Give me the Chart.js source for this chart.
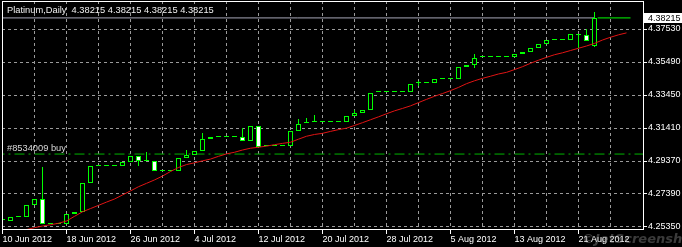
<!DOCTYPE html>
<html>
<head>
<meta charset="utf-8">
<script src="https://cdn.jsdelivr.net/npm/chart.js@4.4.1/dist/chart.umd.min.js"></script>
<style>
  html, body { margin: 0; padding: 0; background: #000; }
  #wrap { width: 682px; height: 247px; }
</style>
</head>
<body>
<div id="wrap"><canvas id="myChart"></canvas></div>
<script>
// Daily Platinum bars, one per calendar day from 10 Jun 2012
const opens = [4.25704, 4.25692, 4.25939, 4.25939, 4.26638, 4.27052, 4.25476, 4.25476, 4.25476, 4.26094,
  4.26217, 4.27992, 4.29061, 4.29061, 4.29061, 4.29061, 4.29308, 4.29679, 4.29370, 4.29370,
  4.28733, 4.28733, 4.28733, 4.29525, 4.29772, 4.30019, 4.30711, 4.30854, 4.30854, 4.30854,
  4.30854, 4.30576, 4.31515, 4.30297, 4.30328, 4.30328, 4.30328, 4.31225, 4.31701, 4.31762,
  4.31800, 4.31800, 4.31800, 4.31800, 4.32152, 4.32356, 4.32523, 4.33617, 4.33617, 4.33617,
  4.33617, 4.33617, 4.34173, 4.34173, 4.34173, 4.34421, 4.34421, 4.34421, 4.35162, 4.35292,
  4.35781, 4.35781, 4.35781, 4.35781, 4.35781, 4.35966, 4.36090, 4.36337, 4.36584, 4.36869,
  4.36869, 4.36850, 4.37190, 4.37190, 4.36498];
const highs = [4.25704, 4.25939, 4.25939, 4.26638, 4.27052, 4.28981, 4.25476, 4.25476, 4.26094, 4.26217,
  4.27992, 4.29061, 4.29061, 4.29061, 4.29061, 4.29308, 4.29679, 4.29679, 4.29957, 4.29370,
  4.28733, 4.28733, 4.29525, 4.30069, 4.30019, 4.31101, 4.30854, 4.30854, 4.30854, 4.30854,
  4.31391, 4.31515, 4.31515, 4.30297, 4.30328, 4.30328, 4.31225, 4.31997, 4.32059, 4.32195,
  4.31800, 4.31800, 4.31800, 4.32152, 4.32523, 4.32523, 4.33592, 4.33617, 4.33617, 4.33617,
  4.33617, 4.34130, 4.34334, 4.34173, 4.34421, 4.34421, 4.34421, 4.35162, 4.35292, 4.35966,
  4.35781, 4.35781, 4.35781, 4.35781, 4.35966, 4.36090, 4.36337, 4.36584, 4.36850, 4.36869,
  4.36869, 4.37202, 4.37202, 4.37530, 4.38562];
const lows = [4.25704, 4.25692, 4.25939, 4.25939, 4.26638, 4.25476, 4.25476, 4.25476, 4.25476, 4.26094,
  4.26217, 4.27992, 4.29061, 4.29061, 4.29061, 4.29061, 4.29308, 4.29092, 4.29370, 4.28733,
  4.28733, 4.28733, 4.28733, 4.29525, 4.29772, 4.30019, 4.30711, 4.30854, 4.30854, 4.30854,
  4.30576, 4.30576, 4.30266, 4.30297, 4.30328, 4.30328, 4.30328, 4.31225, 4.31701, 4.31762,
  4.31800, 4.31800, 4.31800, 4.31800, 4.32152, 4.32356, 4.32523, 4.33617, 4.33617, 4.33617,
  4.33617, 4.33617, 4.34006, 4.34173, 4.34173, 4.34421, 4.34421, 4.34421, 4.35162, 4.35101,
  4.35781, 4.35781, 4.35781, 4.35781, 4.35781, 4.35966, 4.36090, 4.36337, 4.36584, 4.36869,
  4.36869, 4.36850, 4.36374, 4.36788, 4.36436];
const closes = [4.25704, 4.25939, 4.25939, 4.26638, 4.27052, 4.25476, 4.25476, 4.25476, 4.26094, 4.26217,
  4.27992, 4.29061, 4.29061, 4.29061, 4.29061, 4.29308, 4.29679, 4.29370, 4.29370, 4.28733,
  4.28733, 4.28733, 4.29525, 4.29772, 4.30019, 4.30711, 4.30854, 4.30854, 4.30854, 4.30854,
  4.30576, 4.31515, 4.30266, 4.30297, 4.30328, 4.30328, 4.31225, 4.31639, 4.31701, 4.31762,
  4.31800, 4.31800, 4.31800, 4.32152, 4.32356, 4.32523, 4.33592, 4.33617, 4.33617, 4.33617,
  4.33617, 4.34130, 4.34173, 4.34173, 4.34421, 4.34421, 4.34421, 4.35162, 4.35292, 4.35719,
  4.35781, 4.35781, 4.35781, 4.35781, 4.35966, 4.36090, 4.36337, 4.36584, 4.36850, 4.36869,
  4.36869, 4.37202, 4.37190, 4.36788, 4.38215];

// red moving average, first value on bar 3, runs a few bars past the last candle
const maStart = 3;
const maValues = [4.2513, 4.2525, 4.2535, 4.2543, 4.2552, 4.2566, 4.2595, 4.2623, 4.2643, 4.2663,
  4.2683, 4.2702, 4.2727, 4.2752, 4.2778, 4.2799, 4.2820, 4.2844, 4.2872, 4.2897,
  4.2915, 4.2926, 4.2938, 4.2949, 4.2966, 4.2981, 4.2991, 4.3005, 4.3016, 4.3022,
  4.3029, 4.3038, 4.3046, 4.3053, 4.3072, 4.3090, 4.3101, 4.3108, 4.3120, 4.3131,
  4.3140, 4.3157, 4.3174, 4.3192, 4.3210, 4.3229, 4.3247, 4.3262, 4.3278, 4.3298,
  4.3318, 4.3337, 4.3354, 4.3372, 4.3392, 4.3415, 4.3433, 4.3448, 4.3461, 4.3475,
  4.3485, 4.3502, 4.3520, 4.3541, 4.3560, 4.3578, 4.3594, 4.3606, 4.3620, 4.3634,
  4.3648, 4.3664, 4.3685, 4.3702, 4.3717, 4.3729];

const yTicks = [4.25350, 4.27390, 4.29370, 4.31410, 4.33450, 4.35490, 4.37530];
// one date label every 8 bars
const dateLabels = ['10 Jun 2012', '18 Jun 2012', '26 Jun 2012', '4 Jul 2012', '12 Jul 2012',
  '20 Jul 2012', '28 Jul 2012', '5 Aug 2012', '13 Aug 2012', '21 Aug 2012'];

const bidPrice = 4.38215;
const orderPrice = 4.29800;
const orderLabel = '#8534009 buy';
const symbolTitle = 'Platinum,Daily';

const GREEN = '#00ff00';
const GRID = '#9a9a9a';

const bodies = opens.map((o, i) => ({ x: i, y: [o, closes[i]] }));
const wicks = lows.map((l, i) => ({ x: i, y: [l, highs[i]] }));
const maPoints = maValues.map((v, i) => ({ x: maStart + i, y: v }));
const lastBar = opens.length - 1;

// vertical grid every 4 bars, labels on every other one
const gridBars = [];
for (let v = 0; v < dateLabels.length * 8; v += 4) gridBars.push(v);

// snap candle rectangles to whole pixels so thin dashes stay sharp
const pixelSnap = {
  id: 'pixelSnap',
  beforeDatasetsDraw(chart) {
    [1, 2].forEach((di) => {
      chart.getDatasetMeta(di).data.forEach((el) => {
        el.y = Math.round(el.y);
        el.base = Math.round(el.base);
        if (di === 1 && el.y === el.base) el.base = el.y + 1;
      });
    });
  }
};

// frame, header text, order label and the bid price box
const mtOverlay = {
  id: 'mtOverlay',
  afterDraw(chart) {
    const { ctx, chartArea: a, scales: { y } } = chart;
    ctx.save();
    ctx.strokeStyle = '#fff';
    ctx.lineWidth = 1;
    ctx.strokeRect(a.left + 0.5, a.top + 0.5, a.right - a.left, a.bottom - a.top - 1);

    ctx.font = '9.3px "Liberation Sans", Arial, sans-serif';
    ctx.textBaseline = 'alphabetic';
    ctx.textAlign = 'left';
    ctx.fillStyle = '#f0f0f0';
    const p = bidPrice.toFixed(5);
    ctx.fillText(symbolTitle + '  ' + [p, p, p, p].join(' '), 7, 13);

    ctx.fillStyle = '#d8d8d8';
    ctx.fillText(orderLabel, 7, 151);

    const by = Math.round(y.getPixelForValue(bidPrice));
    ctx.fillStyle = '#fff';
    ctx.fillRect(a.right + 1, by - 5, 40, 10);
    ctx.fillStyle = '#000';
    ctx.font = '9px "Liberation Sans", Arial, sans-serif';
    ctx.textBaseline = 'middle';
    ctx.fillText(p, a.right + 5, by + 0.5);

    // screenshot tool watermark
    ctx.font = 'italic bold 13px "DejaVu Sans", sans-serif';
    ctx.textBaseline = 'alphabetic';
    ctx.fillStyle = 'rgba(170,170,170,0.35)';
    ctx.fillText('\u00a9JetScreenshot', 582, 243);
    ctx.restore();
  }
};

Chart.defaults.font.family = '"Liberation Sans", Arial, sans-serif';
Chart.defaults.font.size = 9;

const ctx = document.getElementById('myChart').getContext('2d');
const chart = new Chart(ctx, {
  type: 'bar',
  data: {
    datasets: [
      {
        type: 'line', label: 'MA', data: maPoints,
        borderColor: '#e01414', borderWidth: 1, pointRadius: 0, tension: 0, order: 0,
      },
      {
        label: 'bodies', data: bodies,
        backgroundColor: (c) => closes[c.dataIndex] >= opens[c.dataIndex] ? '#000' : '#fff',
        borderColor: GREEN, borderWidth: 1, borderSkipped: false,
        barThickness: 5, minBarLength: 1, grouped: false, inflateAmount: 0, order: 1,
      },
      {
        label: 'wicks', data: wicks,
        backgroundColor: GREEN, borderWidth: 0,
        barThickness: 1, grouped: false, inflateAmount: 0, order: 2,
      },
      {
        type: 'line', label: 'bid', data: [{ x: -1, y: bidPrice }, { x: lastBar, y: bidPrice }],
        borderColor: '#a8a8b8', borderWidth: 1, pointRadius: 0, order: 3,
      },
      {
        type: 'line', label: 'bid right', data: [{ x: lastBar + 0.4, y: bidPrice }, { x: lastBar + 4.5, y: bidPrice }],
        borderColor: GREEN, borderWidth: 1, pointRadius: 0, order: 4,
      },
      {
        type: 'line', label: 'order', data: [{ x: -1, y: orderPrice }, { x: 81, y: orderPrice }],
        borderColor: '#00b400', borderWidth: 1, borderDash: [10, 4, 2, 4], pointRadius: 0, order: 5,
      },
    ],
  },
  options: {
    responsive: true,
    maintainAspectRatio: false,
    animation: false,
    devicePixelRatio: 1,
    layout: { padding: { left: 2, top: 1, right: 0, bottom: 0 } },
    plugins: { legend: { display: false }, tooltip: { enabled: false } },
    scales: {
      x: {
        type: 'linear', min: -0.0625, max: 80.0625, offset: false,
        afterBuildTicks: (s) => { s.ticks = gridBars.map((v) => ({ value: v })); },
        afterFit: (s) => { s.height = 17; s.paddingLeft = 0; s.paddingRight = 0; },
        ticks: {
          autoSkip: false, maxRotation: 0, minRotation: 0, align: 'start', padding: 0, color: '#fff',
          callback: (v) => (v % 8 === 0 ? dateLabels[v / 8] : ''),
        },
        grid: {
          color: GRID, offset: false, tickLength: 4,
          tickColor: (c) => (c.tick && c.tick.value % 8 === 0 ? '#fff' : 'rgba(0,0,0,0)'),
        },
        border: { display: false, dash: [3, 3] },
      },
      y: {
        type: 'linear', position: 'right', min: 4.25105, max: 4.39261,
        afterBuildTicks: (s) => { s.ticks = yTicks.map((v) => ({ value: v })); },
        afterFit: (s) => { s.width = 39; s.paddingTop = 0; s.paddingBottom = 0; },
        ticks: { color: '#fff', padding: 1, callback: (v) => v.toFixed(5) },
        grid: { color: GRID, tickLength: 4, tickColor: '#fff' },
        border: { display: false, dash: [3, 3] },
      },
    },
  },
  plugins: [pixelSnap, mtOverlay],
});
</script>
</body>
</html>
